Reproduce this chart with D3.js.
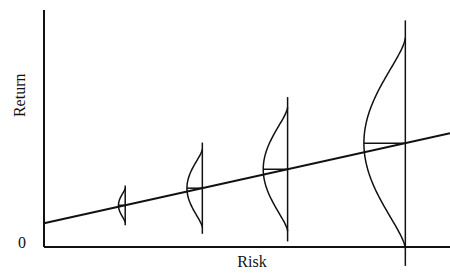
<!DOCTYPE html>
<html>
<head>
<meta charset="utf-8">
<script src="https://cdn.jsdelivr.net/npm/d3@7"></script>
<style>
  body { margin: 0; background: #fff; }
  text { font-family: "Liberation Serif", "Times New Roman", serif; fill: #111; }
</style>
</head>
<body>
<svg width="450" height="273"></svg>
<script>
// risk level of each distribution and its spread (in return units)
var risks = [2, 3.9, 6, 8.9];
var spreads = [0.24, 0.55, 0.87, 1.48];
// capital market line: return = intercept + slope * risk
var intercept = 1.0;
var slope = 0.38;

var svg = d3.select("svg");

var x = d3.scaleLinear().domain([0, 10]).range([44, 450]);
var y = d3.scaleLinear().domain([0, 10]).range([247, 10]);
// width of the bell curve, per unit of spread
var bulge = d3.scaleLinear().domain([0, 1]).range([0, 28]);

var ink = "#111";

// axes
svg.append("line")
  .attr("x1", x(0)).attr("x2", x(0))
  .attr("y1", y(10)).attr("y2", y(0))
  .style("stroke", ink).style("stroke-width", 2);
svg.append("line")
  .attr("x1", x(0)).attr("x2", x(10))
  .attr("y1", y(0)).attr("y2", y(0))
  .style("stroke", ink).style("stroke-width", 2);

var data = risks.map(function(r, i) {
  return { risk: r, sd: spreads[i], mean: intercept + slope * r };
});

// vertical line at each risk level
svg.selectAll("line.stem")
  .data(data)
  .enter()
  .append("line")
  .attr("class", "stem")
  .attr("x1", function(d) { return x(d.risk); })
  .attr("x2", function(d) { return x(d.risk); })
  .attr("y1", function(d) { return y(d.mean + 3.5 * d.sd); })
  .attr("y2", function(d) { return y(d.mean - 3.5 * d.sd); })
  .style("stroke", ink).style("stroke-width", 1.5);

// half bell curves to the left, spanning +-3 sd
var ts = d3.range(-1, 1.001, 0.02);
var bell = d3.line()
  .x(function(p) { return p[0]; })
  .y(function(p) { return p[1]; })
  .curve(d3.curveBasis);

svg.selectAll("path.bell")
  .data(data)
  .enter()
  .append("path")
  .attr("class", "bell")
  .attr("d", function(d) {
    return bell(ts.map(function(t) {
      var h = Math.pow(Math.max(0, 1 - t * t), 1.5);
      return [x(d.risk) - bulge(d.sd) * h, y(d.mean + 3 * t * d.sd)];
    }));
  })
  .style("fill", "none")
  .style("stroke", ink).style("stroke-width", 1.5);

// mean marker
svg.selectAll("line.mean")
  .data(data)
  .enter()
  .append("line")
  .attr("class", "mean")
  .attr("x1", function(d) { return x(d.risk) - bulge(d.sd); })
  .attr("x2", function(d) { return x(d.risk); })
  .attr("y1", function(d) { return y(d.mean); })
  .attr("y2", function(d) { return y(d.mean); })
  .style("stroke", ink).style("stroke-width", 1.5);

// trend line
svg.append("line")
  .attr("x1", x(0)).attr("y1", y(intercept))
  .attr("x2", x(10)).attr("y2", y(intercept + slope * 10))
  .style("stroke", ink).style("stroke-width", 2);

// labels
svg.append("text")
  .attr("x", 22).attr("y", 248)
  .attr("text-anchor", "middle")
  .style("font-size", "16px")
  .text("0");

svg.append("text")
  .attr("x", (x(0) + x(10)) / 2 + 5).attr("y", 267)
  .attr("text-anchor", "middle")
  .style("font-size", "16px")
  .text("Risk");

svg.append("text")
  .attr("transform", "translate(25," + (y(6.4)) + ") rotate(-90)")
  .attr("text-anchor", "middle")
  .style("font-size", "16px")
  .text("Return");
</script>
</body>
</html>
